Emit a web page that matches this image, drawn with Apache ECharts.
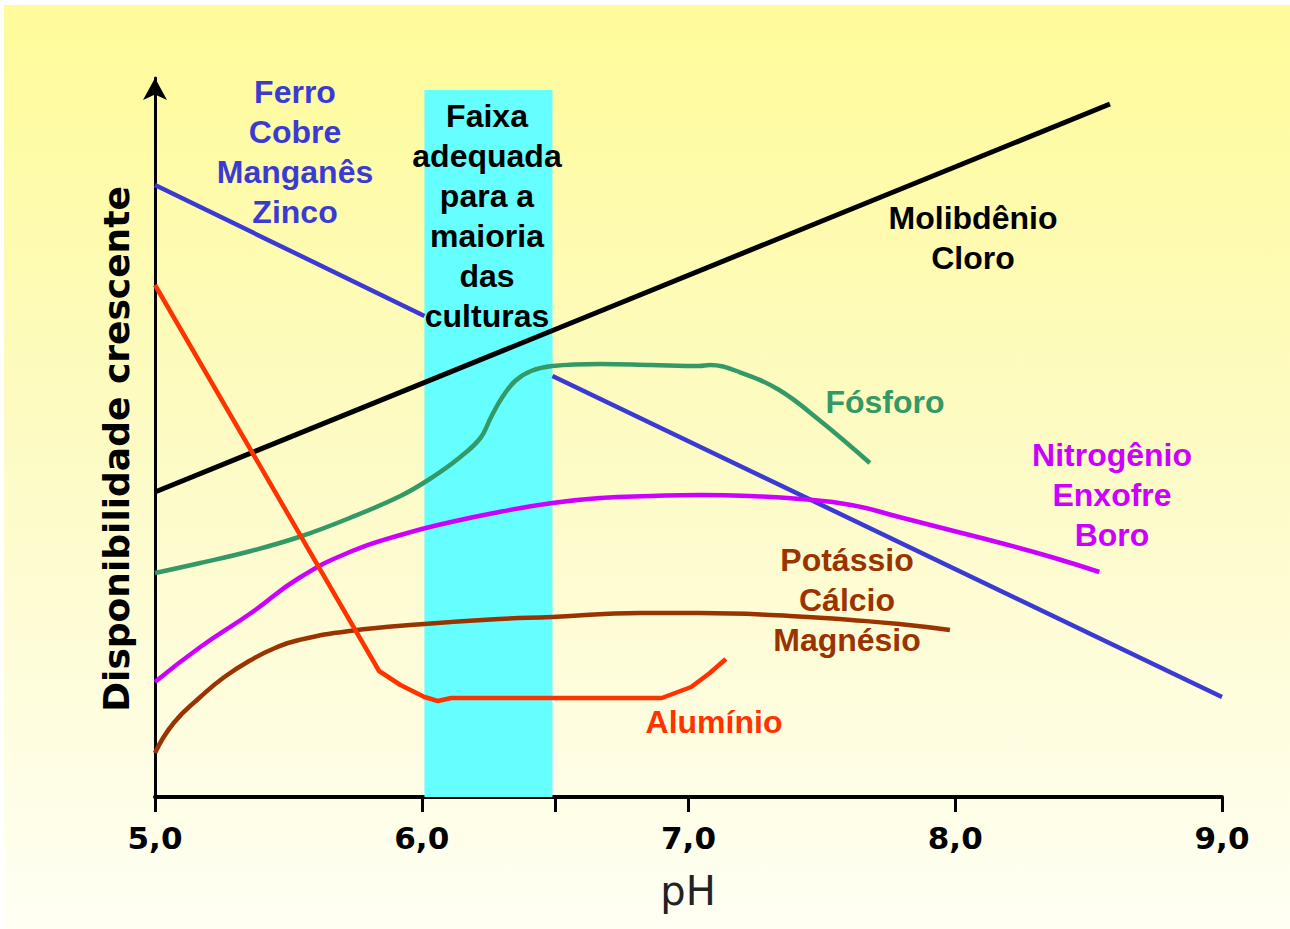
<!DOCTYPE html>
<html><head><meta charset="utf-8">
<script src="https://cdn.jsdelivr.net/npm/echarts@6/dist/echarts.min.js"></script>
<style>
html,body{margin:0;padding:0;background:#fff;}
#bg{position:absolute;left:4px;top:5px;width:1286px;height:924px;background:linear-gradient(#FFFB9A 0%, #FDFBC6 50%, #FFFFF4 100%);}
#chart{position:absolute;left:0;top:0;width:1290px;height:929px;}
</style></head><body><div id="bg"></div><div id="chart"></div>
<script>
// pH axis
const phTicks = [5, 6, 6.5, 7, 8, 9];
const phLabels = [5, 6, 7, 8, 9];
const band = [6.01, 6.49, 70.7];

// [pH, availability]
const ferro = [[5.00, 61.2], [6.01, 48.1], [6.25, null], [6.49, 42.1], [9.00, 10.0]];
const molibdenio = [[5.00, 30.5], [8.58, 69.3]];
const fosforo = [[5.00, 22.4], [5.17, 23.4], [5.36, 24.6], [5.54, 26.0], [5.73, 27.9], [5.92, 30.1],
  [6.03, 31.8], [6.14, 33.9], [6.22, 35.9], [6.26, 38.0], [6.30, 39.9], [6.35, 41.6], [6.41, 42.6],
  [6.49, 43.1], [6.67, 43.3], [6.86, 43.2], [7.04, 43.1], [7.08, 43.2], [7.19, 42.5], [7.34, 40.7],
  [7.49, 37.7], [7.68, 33.4]];
const nitrogenio = [[5.00, 11.5], [5.17, 15.0], [5.36, 18.4], [5.54, 21.9], [5.73, 24.5], [5.92, 26.2],
  [6.11, 27.5], [6.29, 28.5], [6.49, 29.4], [6.67, 29.9], [6.86, 30.1], [7.04, 30.2], [7.23, 30.1],
  [7.42, 29.8], [7.61, 29.2], [7.79, 28.0], [7.98, 26.7], [8.17, 25.4], [8.36, 24.0], [8.54, 22.5]];
const potassio = [[5.00, 4.4], [5.07, 7.4], [5.17, 10.0], [5.26, 12.0], [5.36, 13.7], [5.45, 14.9],
  [5.54, 15.7], [5.73, 16.6], [6.01, 17.3], [6.29, 17.8], [6.49, 18.0], [6.82, 18.4], [7.04, 18.4],
  [7.38, 18.1], [7.61, 17.7], [7.79, 17.3], [7.98, 16.7]];
const aluminio = [[5.00, 51.2], [5.84, 12.6], [5.92, 11.2], [6.01, 10.0], [6.06, 9.6], [6.11, 9.9],
  [6.90, 9.9], [7.01, 11.0], [7.08, 12.4], [7.14, 13.8]];

const labelFont = '"Liberation Sans", Arial, sans-serif';
function txt(x, y, text, color) {
  return { type: 'text', x: x, y: y, z: 50, style: { text: text, fill: color, font: 'bold 32px ' + labelFont,
    align: 'center', verticalAlign: 'middle', lineHeight: 40 } };
}

const chart = echarts.init(document.getElementById('chart'), null, { renderer: 'svg' });
function line(name, data, color, width, smooth, z) {
  return { name: name, type: 'line', data: data, symbol: 'none', smooth: smooth, z: z || 3,
    lineStyle: { color: color, width: width }, silent: true, animation: false };
}
const ferroSeries = line('Ferro', ferro, '#3B3BD3', 4.5, false, 2);
ferroSeries.markArea = { silent: true, itemStyle: { color: '#66FFFF' },
  data: [[{ xAxis: band[0], yAxis: 0 }, { xAxis: band[1], yAxis: band[2] }]] };

chart.setOption({
  animation: false,
  grid: { left: 155, right: 68, top: 78, bottom: 132 },
  xAxis: {
    type: 'value', min: 5, max: 9, interval: 0.5,
    axisLine: { show: true, lineStyle: { color: '#000', width: 4 } },
    axisTick: { show: true, customValues: phTicks, length: 15, lineStyle: { color: '#000', width: 3 } },
    axisLabel: { customValues: phLabels, margin: 25, color: '#000',
      fontFamily: '"DejaVu Sans", Verdana, sans-serif', fontWeight: 'bold', fontSize: 31,
      formatter: v => v.toFixed(1).replace('.', ',') },
    splitLine: { show: false }
  },
  yAxis: {
    type: 'value', min: 0, max: 71.9,
    axisLine: { show: true, symbol: ['none', 'arrow'], symbolSize: [18, 22], lineStyle: { color: '#000', width: 3 } },
    axisTick: { show: false }, axisLabel: { show: false }, splitLine: { show: false }
  },
  series: [
    ferroSeries,
    line('Molibdênio', molibdenio, '#000000', 5, false),
    line('Fósforo', fosforo, '#339966', 4.5, 0.4),
    line('Nitrogênio', nitrogenio, '#CC00FF', 4.5, 0.5),
    line('Potássio', potassio, '#993300', 4.5, 0.5),
    line('Alumínio', aluminio, '#FF3300', 4.5, false)
  ],
  graphic: [
    txt(295, 152, 'Ferro\nCobre\nManganês\nZinco', '#3B3BD3'),
    txt(487, 216, 'Faixa\nadequada\npara a\nmaioria\ndas\nculturas', '#000'),
    txt(973, 238, 'Molibdênio\nCloro', '#000'),
    txt(885, 402, 'Fósforo', '#339966'),
    txt(1112, 495, 'Nitrogênio\nEnxofre\nBoro', '#CC00FF'),
    txt(847, 600, 'Potássio\nCálcio\nMagnésio', '#993300'),
    txt(714, 722, 'Alumínio', '#FF3300'),
    { type: 'text', x: 116, y: 449, rotation: Math.PI / 2, z: 50,
      style: { text: 'Disponibilidade crescente', fill: '#000', font: 'bold 36px "DejaVu Sans", Verdana, sans-serif',
        align: 'center', verticalAlign: 'middle' } },
    { type: 'text', x: 688, y: 891, z: 50,
      style: { text: 'pH', fill: '#222', font: '40px "DejaVu Sans", Verdana, sans-serif',
        align: 'center', verticalAlign: 'middle' } }
  ]
});
</script></body></html>
